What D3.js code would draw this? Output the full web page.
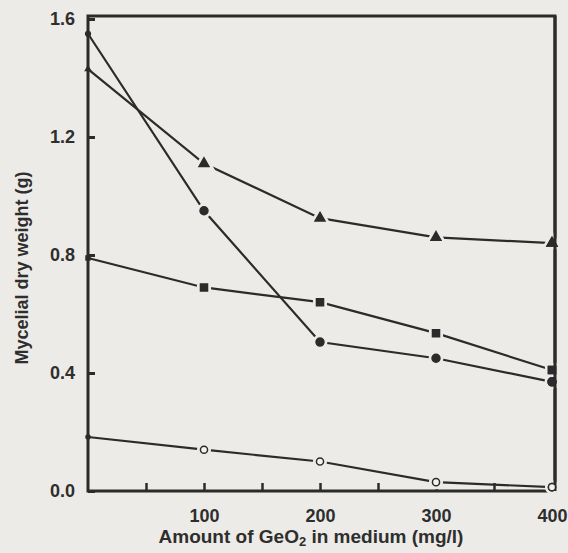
<!DOCTYPE html>
<meta charset="utf-8">
<script src="https://d3js.org/d3.v7.min.js"></script>
<style>
  body { margin: 0; background: #ecebe7; }
  svg text { font-family: "Liberation Sans", Arial, sans-serif; fill: #2e2e2e; }
</style>
<div id="screen"></div>
<script>
  // GeO2 concentrations (mg/l)
  var doses = [0, 100, 200, 300, 400];
  // mycelial dry weight (g) per species
  var triangles = [1.43, 1.11, 0.925, 0.86, 0.84];
  var dots      = [1.55, 0.95, 0.505, 0.45, 0.37];
  var squares   = [0.79, 0.69, 0.64, 0.535, 0.41];
  var rings     = [0.183, 0.14, 0.10, 0.03, 0.013];

  var yTicks = [0, 0.4, 0.8, 1.2, 1.6];
  var xTicks = [100, 200, 300, 400];
  var xMinor = [50, 100, 150, 200, 250, 300, 350];

  var W = 568, H = 553, bg = "#ecebe7", ink = "#2b2b2b";
  var svg = d3.select("#screen").append("svg")
      .attr("width", W).attr("height", H);

  var x = d3.scaleLinear().domain([0, 400]).range([88, 552]);
  var y = d3.scaleLinear().domain([0, 1.6]).range([491, 19]);

  // frame
  svg.append("rect")
      .attr("x", 88).attr("y", 16)
      .attr("width", 467).attr("height", 475)
      .attr("fill", "none").attr("stroke", ink).attr("stroke-width", 3);

  // y axis: ticks inward, labels left
  var yAxis = d3.axisLeft(y).tickValues(yTicks).tickSize(-7).tickPadding(13)
      .tickFormat(d3.format(".1f"));
  var gy = svg.append("g").attr("transform", "translate(88,0)").call(yAxis);
  gy.select(".domain").remove();
  gy.selectAll(".tick line").attr("stroke", ink).attr("stroke-width", 3);
  gy.selectAll(".tick text").style("font-size", "18px").style("font-weight", "bold");

  // x axis: minor ticks inward every 50
  var gx = svg.append("g").attr("transform", "translate(0,491)")
      .call(d3.axisBottom(x).tickValues(xMinor).tickSize(-8).tickFormat(""));
  gx.select(".domain").remove();
  gx.selectAll(".tick line").attr("stroke", ink).attr("stroke-width", 2.5);
  var gxl = svg.append("g").attr("transform", "translate(0,491)")
      .call(d3.axisBottom(x).tickValues(xTicks).tickSize(0).tickPadding(18));
  gxl.select(".domain").remove();
  gxl.selectAll(".tick text").style("font-size", "18px").style("font-weight", "bold");

  // axis titles
  svg.append("text")
      .attr("x", 311).attr("y", 543)
      .attr("text-anchor", "middle")
      .style("font-size", "19px").style("font-weight", "bold")
      .html('Amount of GeO<tspan dy="3" font-size="13px">2</tspan><tspan dy="-3"> in medium (mg/l)</tspan>');
  svg.append("text")
      .attr("transform", "translate(28,268) rotate(-90)")
      .attr("text-anchor", "middle")
      .style("font-size", "18px").style("font-weight", "bold")
      .text("Mycelial dry weight (g)");

  var line = d3.line().x(function(d, i) { return x(doses[i]); }).y(function(d) { return y(d); });

  var series = [
    { v: triangles, shape: d3.symbolTriangle, size: 42, fill: ink },
    { v: dots,      shape: d3.symbolCircle,   size: 50, fill: ink },
    { v: squares,   shape: d3.symbolSquare,   size: 50, fill: ink },
    { v: rings,     shape: d3.symbolCircle,   size: 40, fill: "#f4f3ef" }
  ];

  series.forEach(function(s) {
    svg.append("path").datum(s.v)
        .attr("d", line)
        .attr("fill", "none").attr("stroke", ink).attr("stroke-width", 2.2);
  });

  // markers with a background halo so the lines break around them
  series.forEach(function(s) {
    var sym = d3.symbol().type(s.shape).size(s.size);
    svg.selectAll(null).data(s.v.slice(1)).enter().append("path")
        .attr("d", sym)
        .attr("transform", function(d, i) { return "translate(" + x(doses[i + 1]) + "," + y(d) + ")"; })
        .attr("fill", "none").attr("stroke", bg).attr("stroke-width", 7);
    svg.selectAll(null).data(s.v.slice(1)).enter().append("path")
        .attr("d", sym)
        .attr("transform", function(d, i) { return "translate(" + x(doses[i + 1]) + "," + y(d) + ")"; })
        .attr("fill", s.fill).attr("stroke", ink).attr("stroke-width", 1.5);
  });

  // redraw right frame edge over halos
  svg.append("line").attr("x1", 555).attr("x2", 555).attr("y1", 16).attr("y2", 491)
      .attr("stroke", ink).attr("stroke-width", 3);
  // markers at zero sit on the left axis
  series.forEach(function(s) {
    var sym = d3.symbol().type(s.shape).size(s.size * 0.6);
    svg.append("path").attr("d", sym)
        .attr("transform", "translate(" + x(0) + "," + y(s.v[0]) + ")")
        .attr("fill", ink);
  });
  svg.selectAll(null).data(series).enter().append("path")
      .attr("d", function(s) { return d3.symbol().type(s.shape).size(s.size)(); })
      .attr("transform", function(s) { return "translate(" + x(400) + "," + y(s.v[4]) + ")"; })
      .attr("fill", function(s) { return s.fill; }).attr("stroke", ink).attr("stroke-width", 1.5);
</script>
